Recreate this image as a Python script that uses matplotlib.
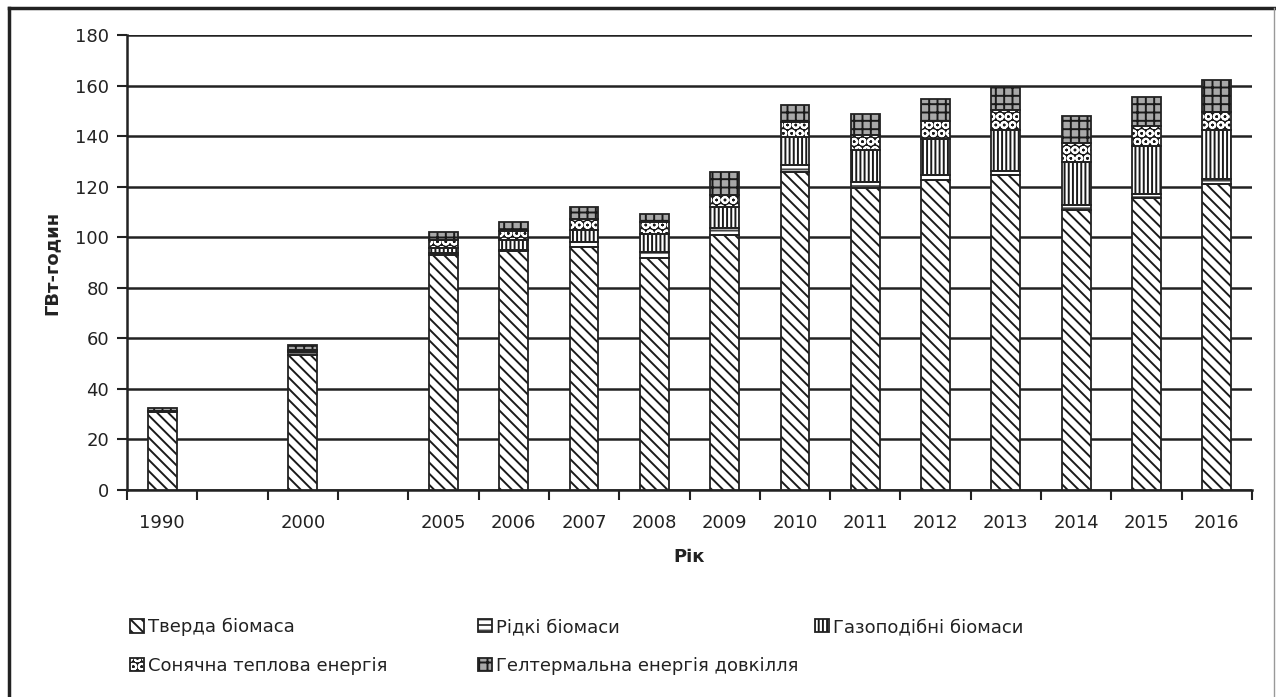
import matplotlib
matplotlib.use("Agg")
import matplotlib.pyplot as plt
from matplotlib.patches import Patch
from matplotlib.legend_handler import HandlerTuple
from matplotlib.lines import Line2D
import numpy as np

plt.rcParams['font.family'] = ['DejaVu Sans']
plt.rcParams['hatch.linewidth'] = 1.4

slot_labels = ['1990', '', '2000', '', '2005', '2006', '2007', '2008', '2009',
               '2010', '2011', '2012', '2013', '2014', '2015', '2016']
years = ['1990', '2000', '2005', '2006', '2007', '2008', '2009',
         '2010', '2011', '2012', '2013', '2014', '2015', '2016']
solid = [31.0, 53.4, 93.0, 94.5, 96.3, 91.6, 101.0, 126.0, 119.3, 122.6, 124.6, 110.8, 115.4, 120.9]
liquid = [0.3, 1.0, 0.6, 0.5, 1.9, 2.6, 2.7, 2.6, 2.7, 2.0, 1.6, 1.9, 1.7, 2.0]
gas = [0.0, 0.5, 2.0, 4.0, 4.6, 7.2, 8.3, 11.2, 12.5, 14.1, 16.2, 17.2, 19.0, 19.5]
solar = [0.0, 0.5, 3.3, 3.5, 4.6, 4.6, 4.6, 5.9, 5.9, 7.3, 7.9, 7.5, 7.9, 7.2]
geo = [1.0, 2.0, 3.0, 3.7, 4.4, 3.3, 9.2, 6.6, 8.2, 8.5, 9.2, 10.7, 11.3, 12.6]

series_names = ['Тверда біомаса', 'Рідкі біомаси', 'Газоподібні біомаси',
                'Сонячна теплова енергія', 'Гелтермальна енергія довкілля']
series = [solid, liquid, gas, solar, geo]
# (facecolor, hatch color, hatch)
styles = [
    ('white', '#1a1a1a', '\\' * 3),
    ('white', '#444444', '-' * 3),
    ('white', '#1a1a1a', '|' * 4),
    ('#1a1a1a', 'white', 'O' * 2),
    ('#a8a8a8', '#1a1a1a', '+' * 2),
]

fig = plt.figure(figsize=(12.76, 6.97), dpi=100)
ax = fig.add_axes([127 / 1276, 1 - 490 / 697, (1252 - 127) / 1276, (490 - 35) / 697])

x = np.array([slot_labels.index(y) for y in years], dtype=float)
width = 0.41
bottom = np.zeros(len(years))
handles = []
for name, vals, (fc, hc, h) in zip(series_names, series, styles):
    vals = np.array(vals)
    ax.bar(x, vals, width, bottom=bottom, color=fc, edgecolor=hc, hatch=h,
           linewidth=0, zorder=3)
    ax.bar(x, vals, width, bottom=bottom, fill=False, edgecolor='#222222',
           linewidth=1.3, zorder=4)
    bottom += vals
    p1 = Patch(facecolor=fc, edgecolor=hc, hatch=h, linewidth=0)
    p2 = Patch(fill=False, edgecolor='#222222', linewidth=1.3)
    handles.append((p1, p2))

ax.set_xlim(-0.5, len(slot_labels) - 0.5)
ax.set_ylim(0, 180)
ax.set_yticks(np.arange(0, 181, 20))
ax.yaxis.grid(True, color='#222222', linewidth=1.8)
ax.set_axisbelow(True)
ax.set_xticks(np.arange(len(slot_labels)))
ax.set_xticklabels(slot_labels)
ax.set_xticks(np.arange(-0.5, len(slot_labels)), minor=True)
ax.tick_params(axis='x', which='major', length=0, pad=17, labelsize=13, colors='#222222')
ax.tick_params(axis='x', which='minor', length=7, width=1.5, direction='out', color='#222222')
ax.tick_params(axis='y', length=7, width=1.5, direction='out', labelsize=13, colors='#222222', pad=6)
for s in ['top', 'right']:
    ax.spines[s].set_visible(False)
for s in ['left', 'bottom']:
    ax.spines[s].set_linewidth(1.8)
    ax.spines[s].set_color('#222222')

ax.set_ylabel('ГВт-годин', fontsize=13, fontweight='bold', labelpad=10, color='#222222')
ax.set_xlabel('Рік', fontsize=13, fontweight='bold', labelpad=12, color='#222222')

# Legend placed in three columns
col_x = [130 / 1276, 478 / 1276, 815 / 1276]
cols = [[0, 3], [1, 4], [2]]
top_y = 1 - 618 / 697
for cx, idxs in zip(col_x, cols):
    leg = fig.legend([handles[i] for i in idxs], [series_names[i] for i in idxs],
                     handler_map={tuple: HandlerTuple(ndivide=1, pad=0)},
                     loc='upper left', bbox_to_anchor=(cx, top_y),
                     bbox_transform=fig.transFigure, frameon=False,
                     fontsize=13, handlelength=0.75, handleheight=0.75,
                     handletextpad=0.25, labelspacing=1.15, borderpad=0,
                     borderaxespad=0)
    for t in leg.get_texts():
        t.set_color('#222222')

# outer frame lines
fig.add_artist(Line2D([9 / 1276, 9 / 1276], [0, 1 - 8 / 697], transform=fig.transFigure,
                      color='#222222', linewidth=2.5))
fig.add_artist(Line2D([9 / 1276, 1274 / 1276], [1 - 8 / 697, 1 - 8 / 697], transform=fig.transFigure,
                      color='#222222', linewidth=2.5))
fig.add_artist(Line2D([1274 / 1276, 1274 / 1276], [0, 1 - 8 / 697], transform=fig.transFigure,
                      color='#999999', linewidth=1.0))

fig.savefig('out.png', dpi=100)
